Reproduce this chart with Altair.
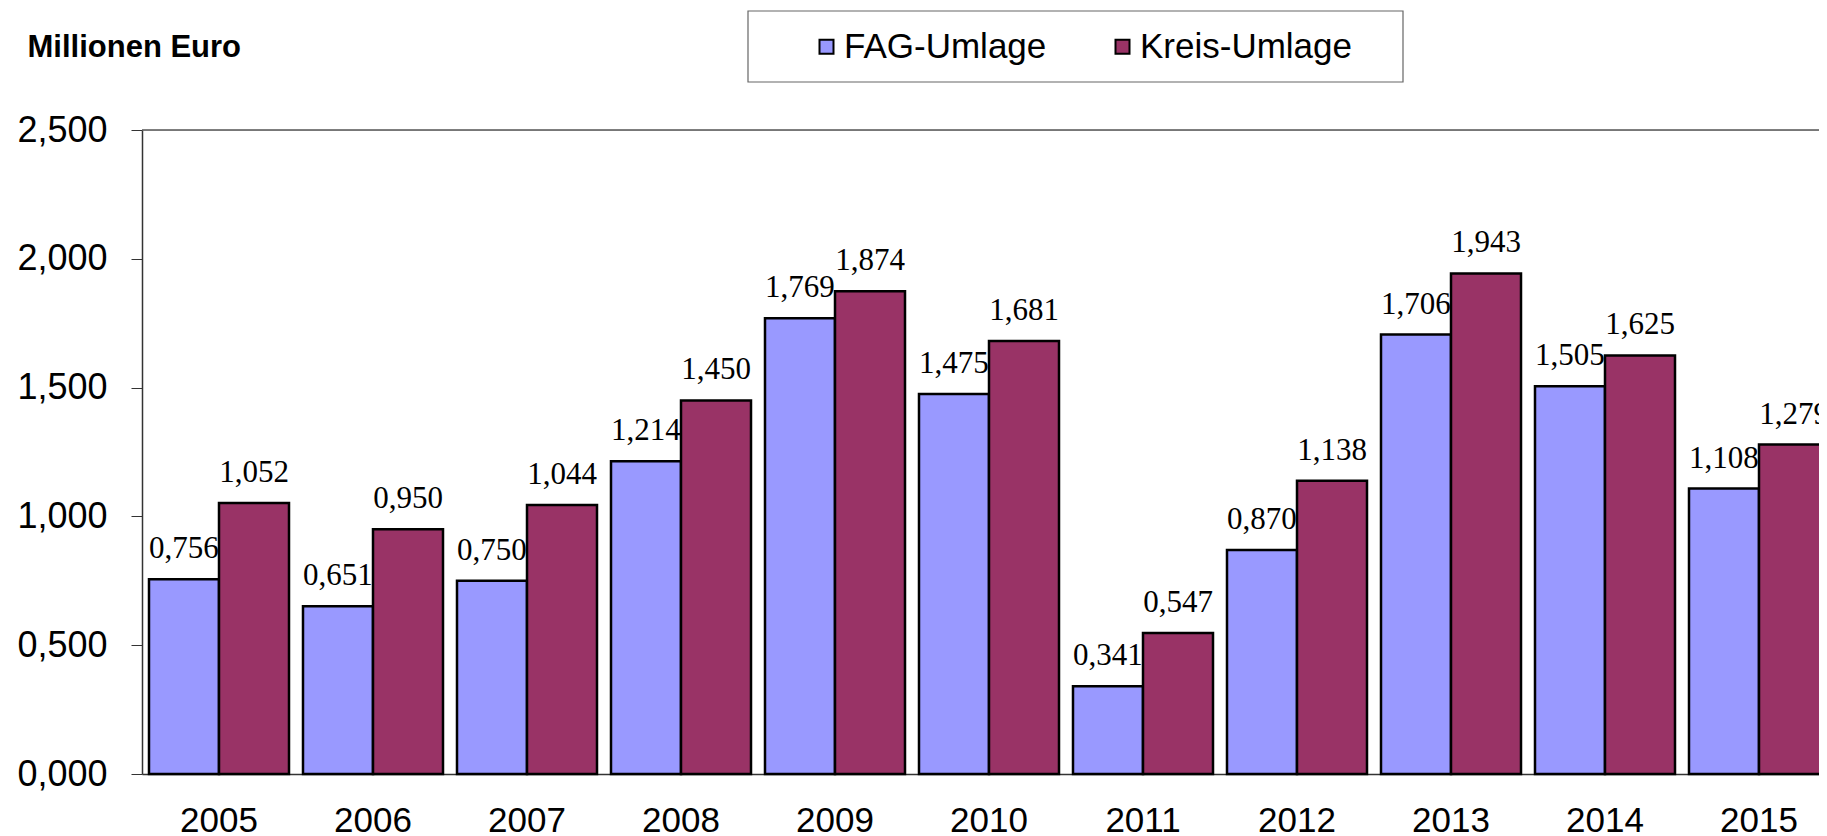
import altair as alt
import pandas as pd

years = ["2005", "2006", "2007", "2008", "2009", "2010", "2011", "2012", "2013", "2014", "2015"]
fag = [0.756, 0.651, 0.750, 1.214, 1.769, 1.475, 0.341, 0.870, 1.706, 1.505, 1.108]
kreis = [1.052, 0.950, 1.044, 1.450, 1.874, 1.681, 0.547, 1.138, 1.943, 1.625, 1.279]
series = ["FAG-Umlage", "Kreis-Umlage"]
colors = ["#9999FF", "#993366"]
y_ticks = [0, 0.5, 1.0, 1.5, 2.0, 2.5]

rows = []
for i, yr in enumerate(years):
    rows.append({"Jahr": yr, "Reihe": series[0], "Wert": fag[i]})
    rows.append({"Jahr": yr, "Reihe": series[1], "Wert": kreis[i]})
df = pd.DataFrame(rows)

SANS = "Liberation Sans"
SERIF = "Liberation Serif"
LINE = "#333333"

W = 1677      # visible plot width (svg is clipped at the window edge)
XR = 1694     # full band range, the last group runs past the edge
H = 644

x_scale = alt.Scale(range=[0, XR], paddingInner=0.0909, paddingOuter=0.04545, round=False)

x_enc = alt.X(
    "Jahr:N",
    sort=years,
    scale=x_scale,
    axis=alt.Axis(
        title=None, labelAngle=0, ticks=False, tickSize=0, domain=True,
        domainColor=LINE, domainWidth=1.5, grid=False,
        labelFontSize=35, labelFont=SANS, labelColor="black", labelPadding=29,
    ),
)
xoff_enc = alt.XOffset("Reihe:N", sort=series, scale=alt.Scale(paddingInner=0, paddingOuter=0, round=False))
y_enc = alt.Y(
    "Wert:Q",
    scale=alt.Scale(domain=[0, 2.5], nice=False, zero=True),
    axis=alt.Axis(
        values=y_ticks,
        labelExpr="replace(format(datum.value, '.3f'), '.', ',')",
        grid=False, domain=True, domainColor=LINE, domainWidth=1.5,
        tickSize=11, tickColor=LINE, tickWidth=1,
        labelFontSize=36, labelFont=SANS, labelColor="black", labelPadding=24,
        title="Millionen Euro", titleAngle=0, titleAlign="left", titleBaseline="alphabetic",
        titleX=-115, titleY=-73.5, titleFont=SANS, titleFontSize=31,
        titleFontWeight="bold", titleColor="black",
    ),
)

frame = alt.Chart(alt.Data(values=[{"k": 1}])).mark_rect(
    fill="white", stroke="#666666", strokeWidth=1.2
).encode(
    x=alt.value(606), x2=alt.value(1261), y=alt.value(-119), y2=alt.value(-48)
)

top_line = alt.Chart(alt.Data(values=[{"k": 1}])).mark_rule(
    color="#555555", strokeWidth=1.5
).encode(
    y=alt.datum(2.5), x=alt.value(0), x2=alt.value(XR)
)

bars = alt.Chart(df).mark_bar(stroke="black", strokeWidth=2.5).encode(
    x=x_enc,
    xOffset=xoff_enc,
    y=y_enc,
    color=alt.Color(
        "Reihe:N",
        sort=series,
        scale=alt.Scale(domain=series, range=colors),
        legend=alt.Legend(
            orient="none", legendX=667, legendY=-101, direction="horizontal",
            title=None, labelFontSize=35, labelFont=SANS, labelColor="black",
            labelLimit=500, symbolType="square", symbolSize=196,
            symbolStrokeColor="black", symbolStrokeWidth=2, labelOffset=0,
            columnPadding=58, padding=0,
        ),
    ),
)

labels = alt.Chart(df).transform_calculate(
    lbl="replace(format(datum.Wert, '.3f'), '.', ',')"
).mark_text(
    font=SERIF, fontSize=31, baseline="alphabetic", align="center", dy=-21, color="black"
).encode(
    x=alt.X("Jahr:N", sort=years),
    xOffset=alt.XOffset("Reihe:N", sort=series),
    y=alt.Y("Wert:Q"),
    text="lbl:N",
)

chart = alt.layer(frame, top_line, bars, labels).properties(
    width=W,
    height=H,
    autosize=alt.AutoSizeParams(type="none"),
    padding={"left": 134, "top": 122, "right": 0, "bottom": 62},
).configure_view(
    strokeWidth=0
).configure(background="white")

chart.save("out.html", embed_options={"renderer": "svg", "actions": False})
